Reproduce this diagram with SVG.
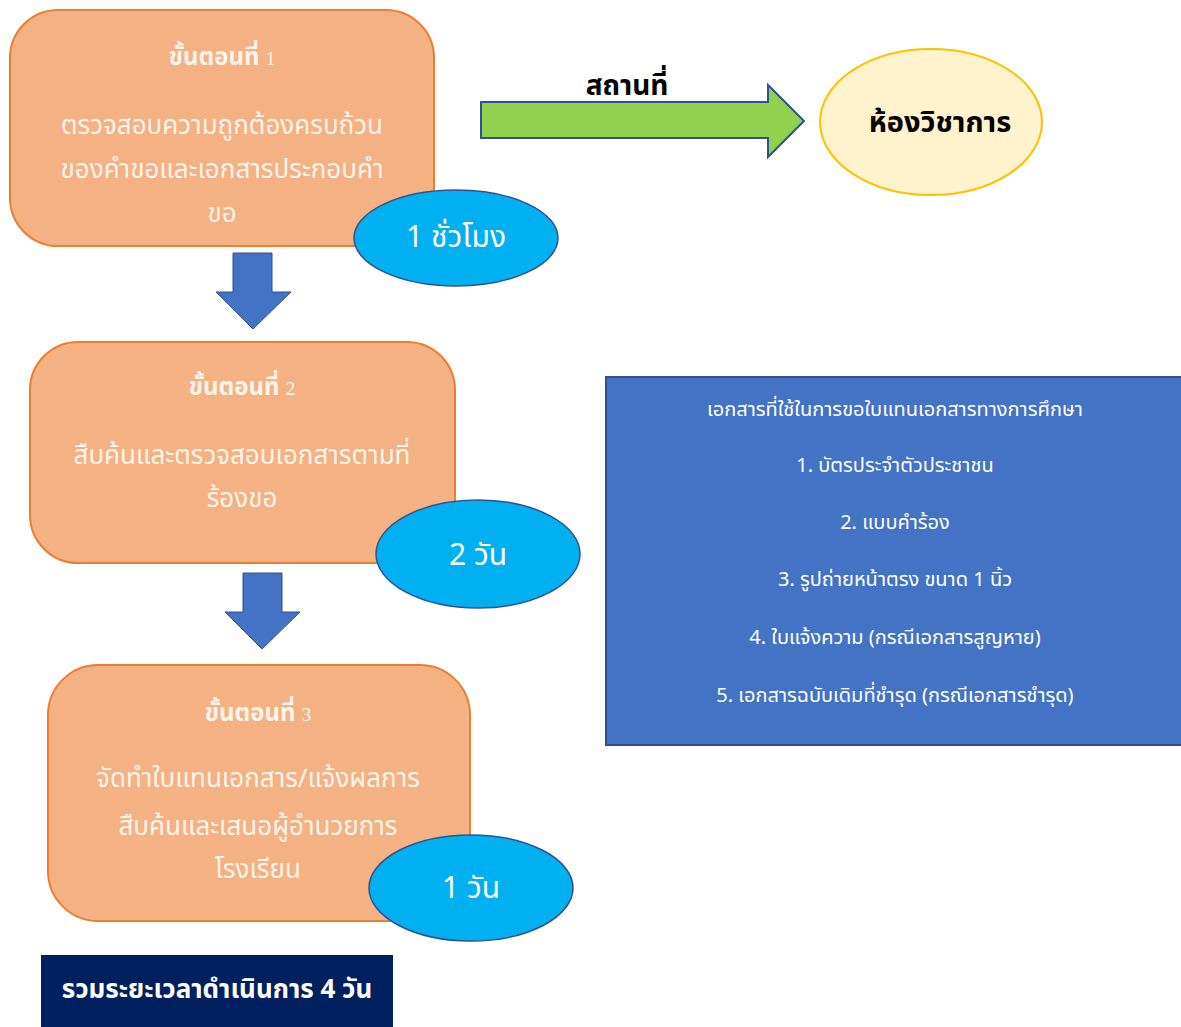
<svg xmlns="http://www.w3.org/2000/svg" width="1181" height="1027" viewBox="0 0 1181 1027">
<style>
.step{fill:#F4B183;stroke:#ED7D31;stroke-width:2}
.time{fill:#00B0F0;stroke:#2F528F;stroke-width:1.5}
.arrow{fill:#4472C4;stroke:#2F528F;stroke-width:1}
text{font-family:"Noto Sans Thai","Leelawadee UI","Tahoma","Noto Sans","DejaVu Sans",sans-serif;text-anchor:middle;dominant-baseline:central}
.st{fill:#FFF4EC;font-size:24px;font-weight:bold}
.sn{font-family:"Liberation Serif",serif;font-size:19px;font-weight:normal}
.sb{fill:#FFF4EC;font-size:26px}
.tt{fill:#FFFFFF;font-size:30px}
.doc{fill:#FFFFFF;font-size:20px}
</style>
<rect width="1181" height="1027" fill="#FFFFFF"/>
<g id="connectors">
<path class="arrow" d="M233,253 H272 V292 H291 L253,329 L216,292 H233 Z"/>
<path class="arrow" d="M243,573 H282 V612 H300 L262,649 L225,612 H243 Z"/>
<path d="M481,102 H768 V85 L804,121 L768,157 V138 H481 Z" fill="#92D050" stroke="#2F528F" stroke-width="2"/>
<text x="627" y="86" style="fill:#000;font-size:28px;font-weight:bold">สถานที่</text>
</g>
<g id="step1">
<rect class="step" x="10" y="10" width="424" height="236" rx="48"/>
<text x="222" y="58" class="st">ขั้นตอนที่ <tspan class="sn">1</tspan></text>
<text x="222" y="126" class="sb">ตรวจสอบความถูกต้องครบถ้วน</text>
<text x="222" y="170" class="sb">ของคำขอและเอกสารประกอบคำ</text>
<text x="222" y="214" class="sb">ขอ</text>
</g>
<g id="time1">
<ellipse class="time" cx="456" cy="238" rx="102" ry="48"/>
<text x="456" y="238" class="tt">1 ชั่วโมง</text>
</g>
<g id="step2">
<rect class="step" x="30" y="342" width="425" height="221" rx="48"/>
<text x="242" y="388" class="st">ขั้นตอนที่ <tspan class="sn">2</tspan></text>
<text x="242" y="456" class="sb">สืบค้นและตรวจสอบเอกสารตามที่</text>
<text x="242" y="499" class="sb">ร้องขอ</text>
</g>
<g id="time2">
<ellipse class="time" cx="478" cy="554" rx="102" ry="54"/>
<text x="478" y="556" class="tt">2 วัน</text>
</g>
<g id="step3">
<rect class="step" x="48" y="665" width="422" height="256" rx="50"/>
<text x="258" y="714" class="st">ขั้นตอนที่ <tspan class="sn">3</tspan></text>
<text x="258" y="779" class="sb">จัดทำใบแทนเอกสาร/แจ้งผลการ</text>
<text x="258" y="827" class="sb">สืบค้นและเสนอผู้อำนวยการ</text>
<text x="258" y="870" class="sb">โรงเรียน</text>
</g>
<g id="time3">
<ellipse class="time" cx="471" cy="888" rx="102" ry="53"/>
<text x="471" y="889" class="tt">1 วัน</text>
</g>
<g id="place">
<ellipse cx="931" cy="122" rx="111" ry="73" fill="#FFF2CC" stroke="#FFC000" stroke-width="2"/>
<text x="940" y="123" style="fill:#000;font-size:29px;font-weight:bold">ห้องวิชาการ</text>
</g>
<g id="documents">
<rect x="606" y="377" width="580" height="368" fill="#4472C4" stroke="#2F528F" stroke-width="2"/>
<text x="895" y="410" class="doc">เอกสารที่ใช้ในการขอใบแทนเอกสารทางการศึกษา</text>
<text x="895" y="466" class="doc">1. บัตรประจำตัวประชาชน</text>
<text x="895" y="523" class="doc">2. แบบคำร้อง</text>
<text x="895" y="580" class="doc">3. รูปถ่ายหน้าตรง ขนาด 1 นิ้ว</text>
<text x="895" y="638" class="doc">4. ใบแจ้งความ (กรณีเอกสารสูญหาย)</text>
<text x="895" y="696" class="doc">5. เอกสารฉบับเดิมที่ชำรุด (กรณีเอกสารชำรุด)</text>
</g>
<g id="total">
<rect x="41" y="955" width="352" height="72" fill="#002060"/>
<text x="217" y="990" style="fill:#FFF;font-size:26px;font-weight:bold">รวมระยะเวลาดำเนินการ 4 วัน</text>
</g>
</svg>
